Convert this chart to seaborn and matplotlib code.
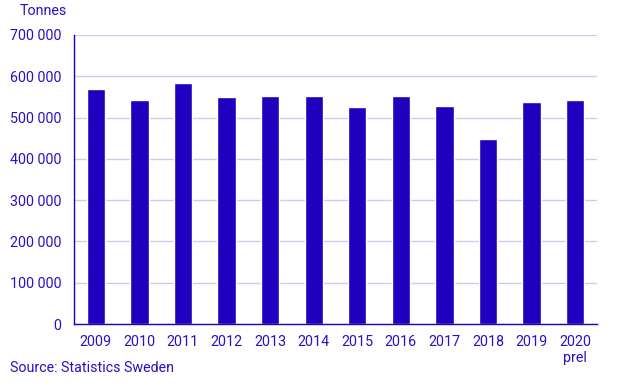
import matplotlib
matplotlib.use("Agg")
import matplotlib.pyplot as plt
import seaborn as sns
import pandas as pd
import numpy as np
from matplotlib.ticker import FuncFormatter, MultipleLocator

years = ["2009", "2010", "2011", "2012", "2013", "2014", "2015", "2016", "2017", "2018", "2019", "2020\nprel"]
tonnes = [570000, 543000, 584000, 550000, 553000, 553000, 526000, 553000, 528000, 448000, 538000, 543000]

df = pd.DataFrame({"year": years, "tonnes": tonnes})

sns.set_style("white")
plt.rcParams['font.family'] = ['Roboto', 'DejaVu Sans']

blue = "#1E00BE"
textc = "#2A10C0"
grid = "#CCCCF2"
fs = 10.3

fig = plt.figure(figsize=(6.43, 3.86), dpi=100)
ax = fig.add_axes([74/643, 62/386, (597-74)/643, (324-35)/386])

sns.barplot(data=df, x="year", y="tonnes", color=blue, width=0.42, ax=ax, saturation=1)

ax.set_ylim(0, 700000)
ax.set_xlim(-0.5, len(years) - 0.5)
ax.yaxis.set_major_locator(MultipleLocator(100000))
ax.yaxis.set_major_formatter(FuncFormatter(lambda v, p: f"{int(v):,}".replace(",", " ")))
ax.grid(axis="y", color=grid, linewidth=1)
ax.set_axisbelow(True)
for s in ["top", "right"]:
    ax.spines[s].set_visible(False)
for s in ["left", "bottom"]:
    ax.spines[s].set_color(blue)
    ax.spines[s].set_linewidth(1)

ax.set_xlabel("")
ax.set_ylabel("")
ax.tick_params(axis="x", which="major", length=0, pad=8, labelsize=fs, labelcolor=textc)
ax.set_xticks(np.arange(-0.5, len(years), 1.0), minor=True)
ax.tick_params(axis="x", which="minor", length=5, color=blue, width=1, direction="out")
ax.tick_params(axis="y", length=5, color=blue, width=1, direction="out", labelsize=fs, labelcolor=textc, pad=4)
for lab in ax.get_xticklabels():
    lab.set_verticalalignment("top")
    lab.set_multialignment("center")

fig.text(20/643, 1 - 11/386, "Tonnes", color=textc, fontsize=fs, va="center", ha="left")
fig.text(10/643, 1 - 368/386, "Source: Statistics Sweden", color=textc, fontsize=fs, va="center", ha="left")

fig.savefig("out.png", dpi=100)
